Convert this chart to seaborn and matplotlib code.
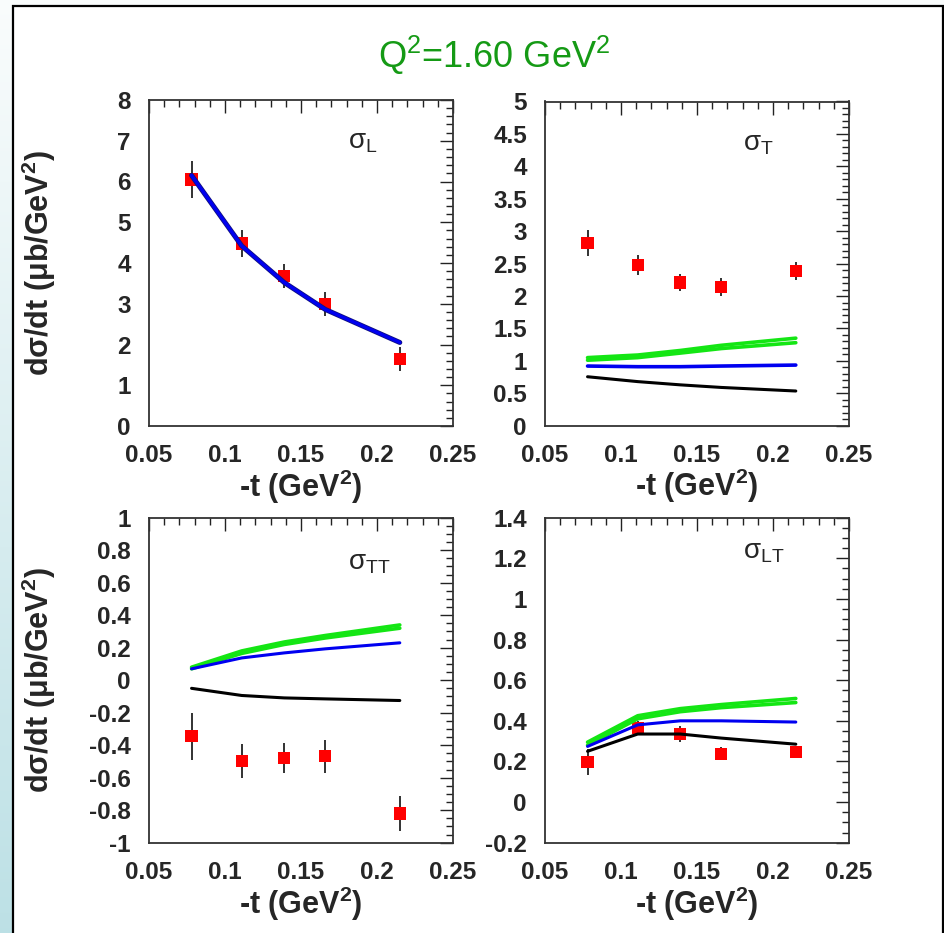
import numpy as np
import matplotlib
matplotlib.use("Agg")
import matplotlib.pyplot as plt
from matplotlib.patches import Rectangle
from matplotlib.ticker import MultipleLocator
import seaborn as sns

# -t bins (GeV^2)
t = [0.078, 0.111, 0.139, 0.166, 0.215]

# sigma_L
sigL_data = [6.05, 4.48, 3.68, 2.99, 1.64]
sigL_err = [0.45, 0.33, 0.30, 0.30, 0.30]
sigL_blue = [6.15, 4.42, 3.52, 2.86, 2.05]

# sigma_T
sigT_data = [2.82, 2.48, 2.21, 2.14, 2.39]
sigT_err = [0.20, 0.15, 0.13, 0.14, 0.14]
sigT_green_hi = [1.05, 1.09, 1.16, 1.24, 1.35]
sigT_green_lo = [1.01, 1.05, 1.12, 1.19, 1.28]
sigT_blue = [0.92, 0.91, 0.91, 0.92, 0.935]
sigT_black = [0.755, 0.68, 0.63, 0.59, 0.535]

# sigma_TT
sigTT_data = [-0.345, -0.498, -0.478, -0.468, -0.82]
sigTT_err = [0.145, 0.105, 0.09, 0.10, 0.105]
sigTT_green_hi = [0.08, 0.18, 0.235, 0.275, 0.34]
sigTT_green_lo = [0.07, 0.165, 0.22, 0.26, 0.32]
sigTT_blue = [0.07, 0.137, 0.168, 0.193, 0.23]
sigTT_black = [-0.05, -0.094, -0.109, -0.115, -0.125]

# sigma_LT
sigLT_data = [0.197, 0.364, 0.335, 0.238, 0.248]
sigLT_err = [0.065, 0.035, 0.04, 0.033, 0.03]
sigLT_green_hi = [0.295, 0.425, 0.46, 0.48, 0.51]
sigLT_green_lo = [0.28, 0.41, 0.445, 0.465, 0.49]
sigLT_blue = [0.274, 0.38, 0.40, 0.40, 0.394]
sigLT_black = [0.25, 0.335, 0.335, 0.315, 0.285]

panel_names = ["L", "T", "TT", "LT"]

sns.set_style("white")
plt.rcParams["font.family"] = ["Liberation Sans", "DejaVu Sans"]
plt.rcParams["mathtext.fontset"] = "custom"
plt.rcParams["mathtext.rm"] = "Liberation Sans"
plt.rcParams["mathtext.it"] = "Liberation Sans:italic"
plt.rcParams["mathtext.bf"] = "Liberation Sans:bold"

W, H = 944, 933
fig = plt.figure(figsize=(W / 100, H / 100), dpi=100)

# page background with framed white sheet
bg = fig.add_axes([0, 0, 1, 1], zorder=-10)
top_c = np.array([0.98, 0.99, 0.99])
bot_c = np.array([0.74, 0.88, 0.90])
frac = np.linspace(0, 1, H)[:, None, None]
grad = top_c * (1 - frac) + bot_c * frac
bg.imshow(grad, extent=[0, W, H, 0], aspect="auto")
bg.add_patch(Rectangle((13, 6), 929.5, 960, facecolor="white",
                       edgecolor="black", lw=1.6))
bg.set_xlim(0, W)
bg.set_ylim(H, 0)
bg.axis("off")

GREEN = "#14e614"
BLUE = "#0000f0"


def add_axes_px(x0, y0, x1, y1):
    return fig.add_axes([x0 / W, 1 - y1 / H, (x1 - x0) / W, (y1 - y0) / H])


def style_axes(ax, ylim, ymaj, ymin):
    ax.set_xlim(0.05, 0.25)
    ax.set_ylim(*ylim)
    ax.xaxis.set_major_locator(MultipleLocator(0.05))
    ax.xaxis.set_minor_locator(MultipleLocator(0.01))
    ax.yaxis.set_major_locator(MultipleLocator(ymaj))
    ax.yaxis.set_minor_locator(MultipleLocator(ymin))
    ax.tick_params(which="both", direction="in", top=True, right=True,
                   width=1.0, color="#222222")
    ax.tick_params(which="major", length=9.5, pad=13, labelsize=17.5)
    ax.tick_params(which="minor", length=5)
    for s in ax.spines.values():
        s.set_color("#333333")
        s.set_linewidth(1.3)
    ax.set_facecolor("white")
    ax.set_xlabel(r"-t (GeV$\mathregular{^2}$)", fontsize=22, fontweight="bold")
    ax.xaxis.set_label_coords(0.5, -0.128)


def fmt_tick(v, pos):
    s = f"{v:.2f}".rstrip("0").rstrip(".")
    if s == "-0":
        s = "0"
    return s


def draw_data(ax, vals, err):
    ax.errorbar(t, vals, yerr=err, fmt="none", ecolor="#222222",
                elinewidth=1.3, capsize=0, zorder=3)
    sns.scatterplot(x=t, y=vals, ax=ax, marker="s", s=78, color="#ff0000",
                    edgecolor="none", zorder=4, legend=False)


def draw_curve(ax, vals, color, lw):
    sns.lineplot(x=t, y=vals, ax=ax, color=color, lw=lw, sort=False,
                 estimator=None, zorder=5, legend=False)


# top-left: sigma_L
ax1 = add_axes_px(149, 100, 453, 426)
draw_data(ax1, sigL_data, sigL_err)
draw_curve(ax1, sigL_blue, "#101080", 3.6)
draw_curve(ax1, sigL_blue, BLUE, 2.4)
style_axes(ax1, (0, 8), 1, 0.2)

# top-right: sigma_T
ax2 = add_axes_px(545, 101.5, 849, 425.7)
draw_data(ax2, sigT_data, sigT_err)
draw_curve(ax2, sigT_green_lo, GREEN, 2.6)
draw_curve(ax2, sigT_green_hi, GREEN, 2.6)
draw_curve(ax2, sigT_blue, BLUE, 2.6)
draw_curve(ax2, sigT_black, "black", 2.2)
style_axes(ax2, (0, 5), 0.5, 0.1)

# bottom-left: sigma_TT
ax3 = add_axes_px(149, 517.7, 453, 842.7)
draw_data(ax3, sigTT_data, sigTT_err)
draw_curve(ax3, sigTT_green_lo, GREEN, 2.6)
draw_curve(ax3, sigTT_green_hi, GREEN, 2.6)
draw_curve(ax3, sigTT_blue, BLUE, 2.2)
draw_curve(ax3, sigTT_black, "black", 2.2)
style_axes(ax3, (-1, 1), 0.2, 0.05)

# bottom-right: sigma_LT
ax4 = add_axes_px(545, 517.7, 849, 842.7)
draw_data(ax4, sigLT_data, sigLT_err)
draw_curve(ax4, sigLT_green_lo, GREEN, 2.6)
draw_curve(ax4, sigLT_green_hi, GREEN, 2.6)
draw_curve(ax4, sigLT_blue, BLUE, 2.2)
draw_curve(ax4, sigLT_black, "black", 2.2)
style_axes(ax4, (-0.2, 1.4), 0.2, 0.05)

axes = [ax1, ax2, ax3, ax4]
label_pos = [(0.655, 0.85), (0.651, 0.848), (0.655, 0.84), (0.651, 0.876)]
for ax, name, (lx, ly) in zip(axes, panel_names, label_pos):
    ax.yaxis.set_major_formatter(plt.FuncFormatter(fmt_tick))
    ax.xaxis.set_major_formatter(plt.FuncFormatter(fmt_tick))
    for lab in ax.get_xticklabels() + ax.get_yticklabels():
        lab.set_fontweight("bold")
    ax.text(lx, ly, r"$\mathregular{\sigma_{%s}}$" % name, transform=ax.transAxes,
            fontsize=20, ha="left", va="baseline")

for ax in (ax1, ax3):
    ax.set_ylabel("dσ/dt (μb/GeV$\\mathregular{^2}$)",
                  fontsize=22, fontweight="bold")
    ax.yaxis.set_label_coords(-0.30, 0.5)

fig.text(494 / W, 1 - 68 / H, r"Q$\mathregular{^2}$=1.60 GeV$\mathregular{^2}$",
         color="#159a15", fontsize=26, ha="center", va="baseline")

fig.savefig("out.png", dpi=100)
